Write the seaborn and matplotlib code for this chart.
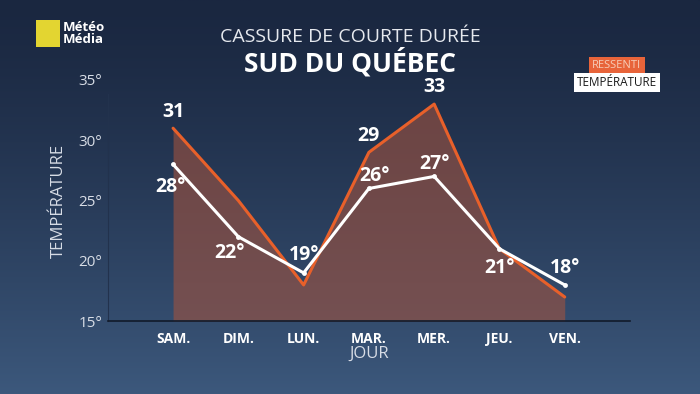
import numpy as np
import pandas as pd
import matplotlib
matplotlib.use("Agg")
import matplotlib.pyplot as plt
import seaborn as sns
from matplotlib.patches import Rectangle

days = ["SAM.", "DIM.", "LUN.", "MAR.", "MER.", "JEU.", "VEN."]
ressenti = [31, 25, 18, 29, 33, 21, 17]
temperature = [28, 22, 19, 26, 27, 21, 18]
ressenti_labels = ["31", "", "", "29", "33", "", ""]
temp_labels = ["28°", "22°", "19°", "26°", "27°", "21°", "18°"]
yticks = [15, 20, 25, 30, 35]
ytick_labels = ["15°", "20°", "25°", "30°", "35°"]

sns.set_theme(style="white")
plt.rcParams['font.family'] = ['Open Sans', 'DejaVu Sans']

fig = plt.figure(figsize=(7, 3.94), dpi=100)

# background gradient
bg = fig.add_axes([0, 0, 1, 1])
bg.set_axis_off()
grad = np.linspace(0, 1, 256).reshape(-1, 1)
top = np.array([0x1a, 0x27, 0x40]) / 255
bot = np.array([0x3c, 0x58, 0x7c]) / 255
img = top + (bot - top) * grad[..., None] ** 1.3
img = np.repeat(img, 2, axis=1)
bg.imshow(img, aspect="auto", extent=[0, 1, 0, 1], origin="upper")
bg.set_xlim(0, 1); bg.set_ylim(0, 1)

ax = fig.add_axes([0.154, 0.185, 0.746, 0.612])
ax.patch.set_alpha(0)

df = pd.DataFrame({"x": np.arange(len(days)), "ressenti": ressenti, "temp": temperature})

ax.fill_between(df["x"], df["ressenti"], 15, color="#a0533f", alpha=0.6, lw=0, zorder=1)
sns.lineplot(data=df, x="x", y="ressenti", ax=ax, color="#e8602a", lw=2.2, zorder=2)
sns.lineplot(data=df, x="x", y="temp", ax=ax, color="white", lw=2.2, marker="o",
             markersize=3.5, markeredgewidth=0, zorder=3)

txt_kw = dict(color="white", fontweight="bold", fontsize=14, ha="center", va="center")
for i, lab in enumerate(ressenti_labels):
    if lab:
        ax.annotate(lab, (i, ressenti[i]), xytext=(0, 12), textcoords="offset points", **txt_kw)

temp_offsets = [(-2, -16), (-6, -12), (0, 13), (4, 9), (0, 9), (0, -14), (0, 12)]
for i, lab in enumerate(temp_labels):
    ax.annotate(lab, (i, temperature[i]), xytext=temp_offsets[i], textcoords="offset points", **txt_kw)

ax.set_xlim(-1, 7)
ax.set_ylim(15, 35)
ax.set_xticks(range(len(days)))
ax.set_xticklabels(days, color="white", fontweight="bold", fontsize=10)
ax.set_yticks(yticks)
ax.set_yticklabels(ytick_labels, color="#d8dde6", fontsize=11)
ax.tick_params(axis="x", length=4, color="#111a2a", pad=4)
ax.tick_params(axis="y", length=0, pad=4)
for s in ["top", "right"]:
    ax.spines[s].set_visible(False)
ax.spines["bottom"].set_color("#111a2a")
ax.spines["bottom"].set_linewidth(1.2)
ax.spines["left"].set_color("#22324d")
ax.spines["left"].set_linewidth(0.8)
ax.spines["left"].set_bounds(15, 33.8)
ax.set_xlabel("JOUR", color="#d8dde6", fontsize=12, labelpad=0)
ax.set_ylabel("TEMPÉRATURE", color="#d8dde6", fontsize=12, labelpad=8)

fig.text(0.5, 0.905, "CASSURE DE COURTE DURÉE", color="#e6e9ee", fontsize=14,
         ha="center", va="center")
fig.text(0.5, 0.842, "SUD DU QUÉBEC", color="white", fontsize=19, fontweight="bold",
         ha="center", va="center")

# legend boxes
fig.text(0.881, 0.833, "RESSENTI", color="#f6cdb8", fontsize=8, ha="center", va="center",
         bbox=dict(boxstyle="square,pad=0.3", fc="#e8643a", ec="none"))
fig.text(0.881, 0.79, "TEMPÉRATURE", color="#1a1a1a", fontsize=8.5, ha="center", va="center",
         bbox=dict(boxstyle="square,pad=0.25", fc="white", ec="none"))

# logo
fig.patches.append(Rectangle((0.052, 0.881), 0.034, 0.068, transform=fig.transFigure,
                             fc="#e3d531", ec="none", zorder=5))
fig.text(0.089, 0.915, "Météo\nMédia", color="white", fontsize=9.5, fontweight="bold",
         ha="left", va="center", linespacing=0.95)

fig.savefig("out.png", dpi=100)
